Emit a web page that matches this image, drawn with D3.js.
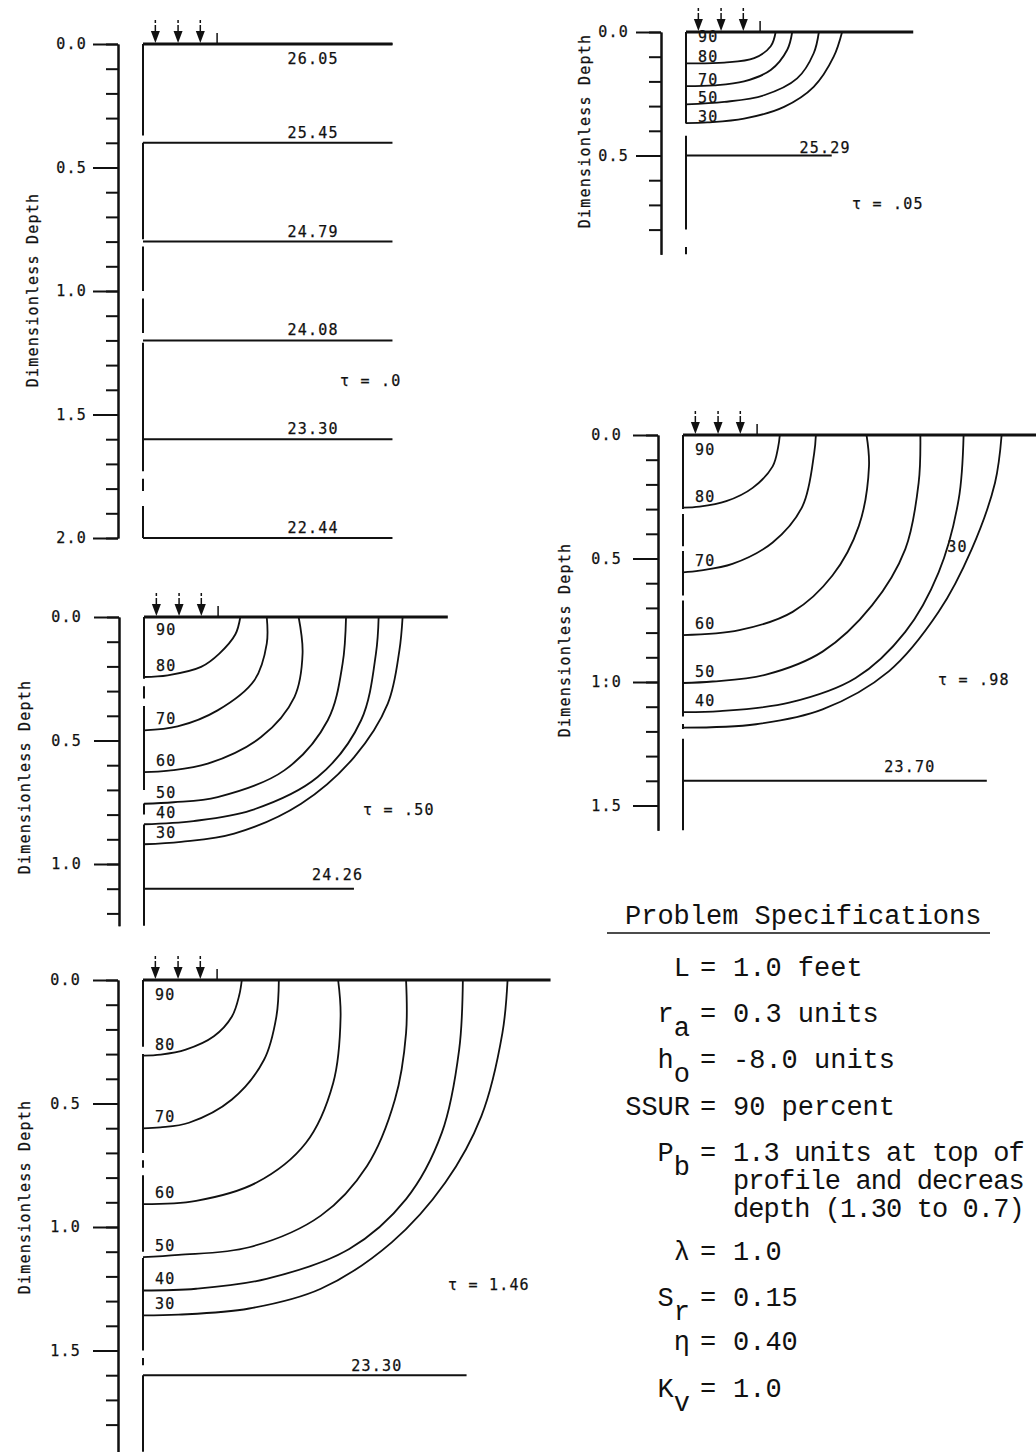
<!DOCTYPE html>
<html lang="en">
<head>
<meta charset="UTF-8">
<title>Saturation contours below a surface source</title>
<style>
    body {
        margin: 0;
        background: #fff;
    }
    svg {
        display: block;
    }
    .axis path, .axis line {
        stroke: #111;
        stroke-width: 2px;
    }
    .axis text, .lbl {
        font-family: "DejaVu Sans Mono", monospace;
        font-size: 15px;
        letter-spacing: 1.2px;
        fill: #111;
        stroke: #111;
        stroke-width: 0.25px;
    }
    .prof, .flat {
        stroke: #111;
        stroke-width: 2px;
    }
    .surf {
        stroke: #111;
        stroke-width: 3px;
    }
    .contour {
        fill: none;
        stroke: #111;
        stroke-width: 1.8px;
    }
    .shaft {
        stroke: #111;
        stroke-width: 1.5px;
    }
    .head {
        fill: #111;
    }
    .spec {
        font-family: "Liberation Mono", monospace;
        font-size: 27px;
        fill: #111;
    }
</style>
</head>
<body>
<script src="https://cdn.jsdelivr.net/npm/d3@7"></script>
<script>
    // ---- values (r = radial distance, d = dimensionless depth)
    var tauLabels = ["τ = .0", "τ = .50", "τ = 1.46", "τ = .05", "τ = .98"];

    var tickLabelsA = ["0.0", "0.5", "1.0", "1.5", "2.0"];
    var tickLabelsB = ["0.0", "0.5", "1.0"];
    var tickLabelsC = ["0.0", "0.5", "1.0", "1.5"];
    var tickLabelsD = ["0.0", "0.5"];
    var tickLabelsE = ["0.0", "0.5", "1:0", "1.5"];

    var flatDepthsA = [0, 0.4, 0.8, 1.2, 1.6, 2.0];
    var flatValuesA = ["26.05", "25.45", "24.79", "24.08", "23.30", "22.44"];
    var flatDepthsB = [1.1];
    var flatValuesB = ["24.26"];
    var flatDepthsC = [1.6];
    var flatValuesC = ["23.30"];
    var flatDepthsD = [0.5];
    var flatValuesD = ["25.29"];
    var flatDepthsE = [1.4];
    var flatValuesE = ["23.70"];

    var levelsB = ["80", "70", "60", "50", "40", "30"];
    var contoursB = [
        [[0.39, 0], [0.37, 0.07], [0.305, 0.148], [0.231, 0.202], [0.096, 0.236], [0, 0.243]],
        [[0.497, 0], [0.497, 0.108], [0.447, 0.256], [0.298, 0.378], [0.136, 0.443], [0, 0.459]],
        [[0.626, 0], [0.642, 0.148], [0.609, 0.324], [0.474, 0.486], [0.258, 0.594], [0.1, 0.622], [0, 0.628]],
        [[0.818, 0], [0.804, 0.189], [0.744, 0.418], [0.568, 0.621], [0.298, 0.729], [0.12, 0.75], [0, 0.756]],
        [[0.95, 0], [0.939, 0.148], [0.879, 0.418], [0.703, 0.648], [0.433, 0.783], [0.2, 0.826], [0, 0.839]],
        [[1.047, 0], [1.034, 0.135], [0.987, 0.351], [0.851, 0.567], [0.636, 0.756], [0.365, 0.877], [0.15, 0.91], [0, 0.92]]
    ];

    var levelsC = ["80", "70", "60", "50", "40", "30"];
    var contoursC = [
        [[0.40, 0], [0.39, 0.06], [0.36, 0.148], [0.287, 0.228], [0.173, 0.282], [0.072, 0.302], [0, 0.306]],
        [[0.55, 0], [0.54, 0.148], [0.49, 0.323], [0.36, 0.484], [0.186, 0.578], [0.07, 0.597], [0, 0.601]],
        [[0.79, 0], [0.80, 0.148], [0.77, 0.417], [0.66, 0.659], [0.46, 0.82], [0.215, 0.894], [0, 0.907]],
        [[1.065, 0], [1.065, 0.215], [1.02, 0.484], [0.907, 0.753], [0.72, 0.954], [0.43, 1.082], [0.144, 1.113], [0, 1.122]],
        [[1.295, 0], [1.28, 0.282], [1.21, 0.618], [1.065, 0.887], [0.835, 1.089], [0.50, 1.21], [0.215, 1.25], [0, 1.257]],
        [[1.476, 0], [1.455, 0.215], [1.37, 0.551], [1.224, 0.82], [1.007, 1.062], [0.72, 1.25], [0.43, 1.33], [0.144, 1.355], [0, 1.358]]
    ];

    var levelsD = ["80", "70", "50", "30"];
    var contoursD = [
        [[0.363, 0], [0.343, 0.058], [0.276, 0.106], [0.155, 0.124], [0, 0.127]],
        [[0.43, 0], [0.41, 0.072], [0.343, 0.154], [0.235, 0.2], [0.114, 0.216], [0, 0.219]],
        [[0.538, 0], [0.517, 0.086], [0.45, 0.188], [0.316, 0.256], [0.155, 0.283], [0, 0.293]],
        [[0.632, 0], [0.598, 0.1], [0.517, 0.222], [0.397, 0.303], [0.235, 0.351], [0.087, 0.366], [0, 0.369]]
    ];

    var levelsE = ["80", "70", "60", "50", "40", "30"];
    var contoursE = [
        [[0.392, 0], [0.385, 0.05], [0.363, 0.127], [0.282, 0.214], [0.175, 0.268], [0.067, 0.29], [0, 0.294]],
        [[0.538, 0], [0.531, 0.074], [0.484, 0.288], [0.363, 0.435], [0.2, 0.522], [0.067, 0.549], [0, 0.556]],
        [[0.743, 0], [0.753, 0.127], [0.712, 0.368], [0.605, 0.569], [0.444, 0.716], [0.228, 0.79], [0, 0.81]],
        [[0.961, 0], [0.954, 0.194], [0.9, 0.462], [0.766, 0.689], [0.565, 0.877], [0.336, 0.97], [0.12, 0.998], [0, 1.004]],
        [[1.136, 0], [1.116, 0.261], [1.035, 0.556], [0.9, 0.797], [0.699, 0.984], [0.43, 1.084], [0.15, 1.118], [0, 1.122]],
        [[1.29, 0], [1.263, 0.194], [1.169, 0.462], [1.035, 0.716], [0.833, 0.957], [0.565, 1.111], [0.296, 1.171], [0, 1.185]]
    ];

    // broken stretches of the profile line (depth from / to)
    var profileA = [[0, 0.37], [0.40, 0.79], [0.82, 1.0], [1.03, 1.17], [1.21, 1.73], [1.76, 1.81], [1.87, 2.0]];
    var profileB = [[0, 0.25], [0.28, 0.33], [0.36, 0.70], [0.755, 0.80], [0.84, 1.25]];
    var profileC = [[0, 0.27], [0.30, 0.70], [0.73, 0.76], [0.79, 1.10], [1.125, 1.50], [1.53, 1.56], [1.60, 1.91]];
    var profileD = [[0, 0.37], [0.42, 0.80], [0.87, 0.9]];
    var profileE = [[0, 0.30], [0.32, 0.45], [0.47, 0.65], [0.67, 1.14], [1.17, 1.19], [1.23, 1.6]];

    var arrowR = [0.05, 0.142, 0.232];
    var sourceR = 0.30;

    var specNames = ["L", "r", "h", "SSUR", "P", "λ", "S", "η", "K"];
    var specSubs = ["", "a", "o", "", "b", "", "r", "", "v"];
    var specValues = [["1.0 feet"], ["0.3 units"], ["-8.0 units"], ["90 percent"],
        ["1.3 units at top of", "profile and decreas", "depth (1.30 to 0.7)"],
        ["1.0"], ["0.15"], ["0.40"], ["1.0"]];

    // ---- layout
    var k = 247; // px per dimensionless unit
    var layout = [
        {ox: 143, oy: 44, axisEnd: 2.0, tickMax: 2.0, major: [0, 0.5, 1, 1.5, 2], ticks: tickLabelsA, pad: 6,
         surfEnd: 1.01, profile: profileA, contours: [], levels: [], flatDepths: flatDepthsA, flatValues: flatValuesA,
         flatEnd: 1.01, flatLabelR: 0.585, flatLift: 5, tau: tauLabels[0], tauXY: [340, 386], titleXY: [33, 290],
         topDrop: 0, lift: 6},
        {ox: 144, oy: 617, axisEnd: 1.25, tickMax: 1.2, major: [0, 0.5, 1], ticks: tickLabelsB, pad: 12,
         surfEnd: 1.23, profile: profileB, contours: contoursB, levels: levelsB, flatDepths: flatDepthsB, flatValues: flatValuesB,
         flatEnd: 0.85, flatLabelR: 0.68, flatLift: 9, tau: tauLabels[1], tauXY: [363, 815], titleXY: [25, 777],
         topDrop: 18, lift: 6},
        {ox: 143, oy: 980, axisEnd: 1.91, tickMax: 1.8, major: [0, 0.5, 1, 1.5], ticks: tickLabelsC, pad: 12,
         surfEnd: 1.65, profile: profileC, contours: contoursC, levels: levelsC, flatDepths: flatDepthsC, flatValues: flatValuesC,
         flatEnd: 1.31, flatLabelR: 0.843, flatLift: 4, tau: tauLabels[2], tauXY: [448, 1290], titleXY: [25, 1197],
         topDrop: 20, lift: 6},
        {ox: 686, oy: 32, axisEnd: 0.9, tickMax: 0.8, major: [0, 0.5], ticks: tickLabelsD, pad: 7,
         surfEnd: 0.92, profile: profileD, contours: contoursD, levels: levelsD, flatDepths: flatDepthsD, flatValues: flatValuesD,
         flatEnd: 0.59, flatLabelR: 0.46, flatLift: 3, tau: tauLabels[3], tauXY: [852, 209], titleXY: [585, 131],
         topDrop: 10, lift: 1},
        {ox: 683, oy: 435, axisEnd: 1.6, tickMax: 1.5, major: [0, 0.5, 1, 1.5], ticks: tickLabelsE, pad: 11,
         surfEnd: 1.45, profile: profileE, contours: contoursE, levels: levelsE, flatDepths: flatDepthsE, flatValues: flatValuesE,
         flatEnd: 1.23, flatLabelR: 0.815, flatLift: 9, tau: tauLabels[4], tauXY: [938, 685], titleXY: [565, 640],
         topDrop: 20, lift: 6, side: {index: 5, r: 1.07, d: 0.474}}
    ];

    var svg = d3.select("body").append("svg")
        .attr("width", 1036)
        .attr("height", 1452);

    layout.forEach(drawPanel);
    drawSpecs();

    function drawPanel(p) {
        var g = svg.append("g");
        var x = d3.scaleLinear().domain([0, 1]).range([p.ox, p.ox + k]);
        var y = d3.scaleLinear().domain([0, p.axisEnd]).range([p.oy, p.oy + p.axisEnd * k]);

        // depth axis: minor ticks every 0.1, long ticks at labelled values
        g.append("g")
            .attr("class", "axis")
            .attr("transform", "translate(" + (p.ox - 25) + ",0)")
            .call(d3.axisLeft(y)
                .tickValues(d3.range(0, p.tickMax + 0.001, 0.1))
                .tickSize(12).tickSizeOuter(0).tickFormat(""));
        g.append("g")
            .attr("class", "axis")
            .attr("transform", "translate(" + (p.ox - 25) + ",0)")
            .call(d3.axisLeft(y)
                .tickValues(p.major)
                .tickSize(25).tickSizeOuter(0).tickPadding(p.pad)
                .tickFormat(function(d, i) { return p.ticks[i]; }));

        g.append("text")
            .attr("class", "lbl")
            .attr("text-anchor", "middle")
            .attr("transform", "translate(" + p.titleXY[0] + "," + p.titleXY[1] + ") rotate(-90)")
            .attr("dy", "0.35em")
            .text("Dimensionless Depth");

        // profile line
        g.selectAll(".prof")
            .data(p.profile)
            .enter().append("line")
            .attr("class", "prof")
            .attr("x1", x(0)).attr("x2", x(0))
            .attr("y1", function(d) { return y(d[0]); })
            .attr("y2", function(d) { return y(d[1]); });

        // soil surface
        g.append("line")
            .attr("class", "surf")
            .attr("x1", x(0)).attr("x2", x(p.surfEnd))
            .attr("y1", y(0)).attr("y2", y(0));

        // source arrows
        var arrows = g.selectAll(".arrow")
            .data(arrowR)
            .enter().append("g")
            .attr("transform", function(d) { return "translate(" + x(d) + "," + y(0) + ")"; });
        arrows.append("line")
            .attr("class", "shaft")
            .attr("y1", -24).attr("y2", -11)
            .attr("stroke-dasharray", "3,2,9");
        arrows.append("path")
            .attr("class", "head")
            .attr("d", "M-4.5,-13L4.5,-13L0,-1Z");
        g.append("line")
            .attr("class", "shaft")
            .attr("stroke-width", 2)
            .attr("x1", x(sourceR)).attr("x2", x(sourceR))
            .attr("y1", y(0) - 11).attr("y2", y(0));

        // saturation contours
        var line = d3.line()
            .x(function(d) { return x(d[0]); })
            .y(function(d) { return y(d[1]); })
            .curve(d3.curveCatmullRom.alpha(0.5));

        g.selectAll(".contour")
            .data(p.contours)
            .enter().append("path")
            .attr("class", "contour")
            .attr("d", line);

        if (p.contours.length) {
            g.append("text")
                .attr("class", "lbl")
                .attr("x", x(0) + 12)
                .attr("y", y(0) + p.topDrop)
                .text("90");
            g.selectAll(".clbl")
                .data(p.contours)
                .enter().append("text")
                .attr("class", "lbl")
                .attr("x", function(d, i) { return p.side && p.side.index === i ? x(p.side.r) : x(0) + 12; })
                .attr("y", function(d, i) {
                    return p.side && p.side.index === i ? y(p.side.d) : y(d[d.length - 1][1]) - p.lift;
                })
                .text(function(d, i) { return p.levels[i]; });
        }

        // horizontal marks with their values
        g.selectAll(".flat")
            .data(p.flatDepths)
            .enter().append("line")
            .attr("class", "flat")
            .attr("x1", x(0)).attr("x2", x(p.flatEnd))
            .attr("y1", function(d) { return y(d); })
            .attr("y2", function(d) { return y(d); });
        g.selectAll(".flbl")
            .data(p.flatDepths)
            .enter().append("text")
            .attr("class", "lbl")
            .attr("x", x(p.flatLabelR))
            .attr("y", function(d) { return d === 0 ? y(d) + 20 : y(d) - p.flatLift; })
            .text(function(d, i) { return p.flatValues[i]; });

        g.append("text")
            .attr("class", "lbl")
            .attr("x", p.tauXY[0])
            .attr("y", p.tauXY[1])
            .text(p.tau);
    }

    function drawSpecs() {
        var rowY = [976, 1022, 1068, 1115, 1161, 1260, 1306, 1350, 1397];
        var g = svg.append("g");

        g.append("text")
            .attr("class", "spec")
            .attr("x", 625)
            .attr("y", 924)
            .text("Problem Specifications");
        g.append("line")
            .attr("x1", 607).attr("x2", 990)
            .attr("y1", 933).attr("y2", 933)
            .attr("stroke", "#111")
            .attr("stroke-width", 1.6);

        specNames.forEach(function(n, i) {
            var t = g.append("text")
                .attr("class", "spec")
                .attr("text-anchor", "end")
                .attr("x", 690)
                .attr("y", rowY[i]);
            t.append("tspan").text(n);
            if (specSubs[i]) t.append("tspan").attr("dy", 14).text(specSubs[i]);

            g.append("text")
                .attr("class", "spec")
                .attr("x", 700)
                .attr("y", rowY[i])
                .text("=");

            specValues[i].forEach(function(v, j) {
                g.append("text")
                    .attr("class", "spec")
                    .attr("x", 733)
                    .attr("y", rowY[i] + j * 28)
                    .style("letter-spacing", specValues[i].length > 1 ? "-0.9px" : null)
                    .text(v);
            });
        });
    }
</script>
</body>
</html>
